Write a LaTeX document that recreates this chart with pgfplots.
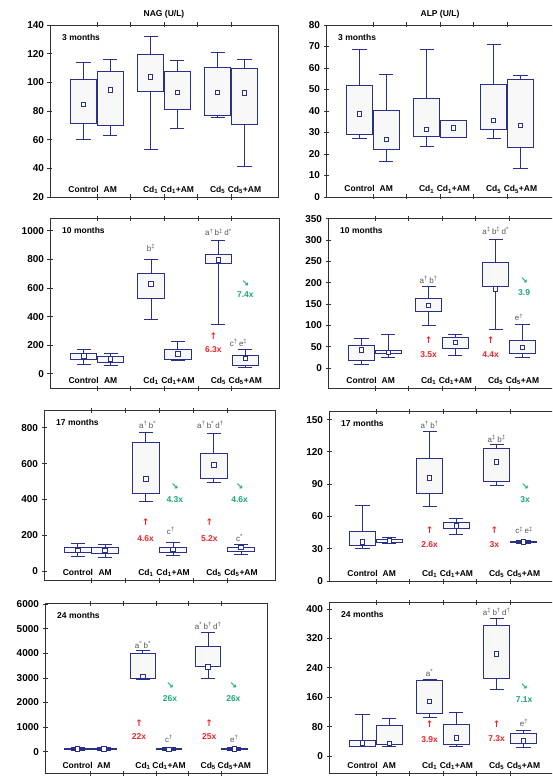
\documentclass[border=0pt]{standalone}
\usepackage{pgfplots}
\pgfplotsset{compat=1.18}
\usepackage{pgfplotstable}
\usepackage{fontspec}
\setmainfont{Liberation Sans}
\newfontfamily\sym{DejaVu Sans}
\definecolor{navy}{RGB}{40,48,135}
\definecolor{boxfill}{RGB}{248,248,248}
\definecolor{annred}{RGB}{232,38,44}
\definecolor{anngreen}{RGB}{28,168,118}
\definecolor{anngray}{RGB}{85,85,85}
\definecolor{framec}{RGB}{50,50,50}

\pgfplotsset{
  panel/.style={scale only axis, clip=false, anchor=north west,
    xmin=-0.4, xmax=6.4, xtick={1,2,3,4,5},
    xticklabels={\mbox{},\mbox{},\mbox{},\mbox{},\mbox{}},
    tick align=center, major tick length=5pt, ytick pos=left,
    axis line style={framec, line width=0.8pt},
    tick style={framec, line width=0.8pt},
    tick label style={font=\bfseries\fontsize{10}{12}\selectfont},
    /pgf/number format/assume math mode=true,
    /pgf/number format/1000 sep={},
    scaled y ticks=false},
  bx/.style={draw=navy, fill=boxfill, line width=1pt, mark=none},
  wk/.style={draw=navy, line width=1pt, mark=none},
  means/.style={only marks, mark=square*, mark size=2.3pt,
    mark options={draw=navy, fill=white, line width=0.9pt}},
}
\tikzset{
  catl/.style={anchor=base, yshift=5pt, inner sep=0pt, font=\bfseries\fontsize{8.5}{10}\selectfont},
  ttl/.style={yshift=11pt, font=\bfseries\fontsize{8.5}{10}\selectfont},
  sigl/.style={text=anngray, inner sep=0pt, font=\fontsize{8}{9}\selectfont},
  redl/.style={text=annred, inner sep=0pt, font=\bfseries\fontsize{8.5}{10}\selectfont},
  grnl/.style={text=anngreen, inner sep=0pt, font=\bfseries\fontsize{8.5}{10}\selectfont},
}

% one box: table, row
\newcommand{\onebox}[2]{%
  \pgfplotstablegetelem{#2}{pos}\of#1\let\bpos\pgfplotsretval
  \pgfplotstablegetelem{#2}{lw}\of#1\let\blw\pgfplotsretval
  \pgfplotstablegetelem{#2}{lq}\of#1\let\blq\pgfplotsretval
  \pgfplotstablegetelem{#2}{uq}\of#1\let\buq\pgfplotsretval
  \pgfplotstablegetelem{#2}{uw}\of#1\let\buw\pgfplotsretval
  \pgfmathsetmacro\bxl{\bpos-0.39}\pgfmathsetmacro\bxr{\bpos+0.39}%
  \pgfmathsetmacro\bcl{\bpos-0.21}\pgfmathsetmacro\bcr{\bpos+0.21}%
  \edef\tmp{%
    \noexpand\addplot[wk] coordinates {(\bpos,\buq) (\bpos,\buw)};
    \noexpand\addplot[wk] coordinates {(\bcl,\buw) (\bcr,\buw)};
    \noexpand\addplot[wk] coordinates {(\bpos,\blq) (\bpos,\blw)};
    \noexpand\addplot[wk] coordinates {(\bcl,\blw) (\bcr,\blw)};
    \noexpand\addplot[bx] coordinates {(\bxl,\blq) (\bxr,\blq) (\bxr,\buq) (\bxl,\buq)} --cycle;
  }\tmp}
\newcommand{\boxes}[1]{\onebox{#1}{0}\onebox{#1}{1}\onebox{#1}{2}%
  \onebox{#1}{3}\onebox{#1}{4}\onebox{#1}{5}%
  \addplot[means] table[x=pos, y=mean] {#1};}
\newcommand{\cats}{%
  \node[catl] at ({axis cs:0.6,0}|-{rel axis cs:0,0}) {Control};
  \node[catl] at ({axis cs:1.4,0}|-{rel axis cs:0,0}) {AM};
  \node[catl] at ({axis cs:2.6,0}|-{rel axis cs:0,0}) {Cd\textsubscript{1}};
  \node[catl] at ({axis cs:3.4,0}|-{rel axis cs:0,0}) {Cd\textsubscript{1}+AM};
  \node[catl] at ({axis cs:4.6,0}|-{rel axis cs:0,0}) {Cd\textsubscript{5}};
  \node[catl] at ({axis cs:5.4,0}|-{rel axis cs:0,0}) {Cd\textsubscript{5}+AM};}
\newcommand{\deco}[1]{\node[anchor=west, xshift=12pt, yshift=-12pt, inner sep=0pt,
  font=\bfseries\fontsize{8.5}{10}\selectfont] at (rel axis cs:0,1) {#1};\cats}
\newcommand{\sig}[3]{\node[sigl] at (axis cs:#1,#2) {#3};}
\newcommand{\up}[4]{\node[redl] at (axis cs:#1,#2) {\sym\fontsize{9}{10}\selectfont ↑};
  \node[redl] at (axis cs:#1,#3) {#4};}
\newcommand{\dn}[4]{\node[grnl] at (axis cs:#1,#2) {\sym\bfseries\fontsize{9}{10}\selectfont ↘};
  \node[grnl] at (axis cs:#1,#3) {#4};}

% columns: pos, lower whisker, lower quartile, upper quartile, upper whisker, mean
\pgfplotstableread{
pos lw lq uq uw mean
0.6 59.8 71.0 102.1 113.8 84.6
1.4 62.8 69.6 107.7 116.1 94.6
2.6 53.2 93.7 119.6 132.3 103.7
3.4 67.5 81.3 107.7 115.4 93.0
4.6 75.2 76.8 110.3 120.6 93.0
5.4 41.3 70.5 109.6 115.9 92.5
}\tLa
\pgfplotstableread{
pos lw lq uq uw mean
0.6 27.1 29.3 51.9 68.6 38.7
1.4 16.5 22.3 40.2 57.1 26.8
2.6 23.4 28.1 46.0 68.8 31.5
3.4 27.5 27.8 35.6 35.6 32.0
4.6 27.4 31.3 52.4 71.1 35.6
5.4 13.3 22.8 54.6 56.6 33.2
}\tRa
\pgfplotstableread{
pos lw lq uq uw mean
0.6 63 98 142 168 124
1.4 56 79 121 145 103
2.6 378 524 699 802 629
3.4 93 103 168 228 138
4.6 347 772 832 930 797
5.4 47 58 131 170 107
}\tLb
\pgfplotstableread{
pos lw lq uq uw mean
0.6 9 17 53 70 42
1.4 25 33 40 78 36
2.6 99 132 164 192 146.5
3.4 30 45 72 79 60
4.6 90 191 247 302 185
5.4 25 35 64 101 48
}\tRb
\pgfplotstableread{
pos lw lq uq uw mean
0.6 82 101 129 154 116
1.4 75 99 131 148 116
2.6 386 431 716 776 515
3.4 86 101 131 159 120
4.6 495 517 659 768 594
5.4 90 110 133 146 131
}\tLc
\pgfplotstableread{
pos lw lq uq uw mean
0.6 30 33.1 45.8 70.5 36.2
1.4 34.6 35.6 38.7 40.2 37.1
2.6 69 81 113.8 138.6 95.6
3.4 43 48.9 54.7 58.1 51.3
4.6 89 92.8 122.8 126.5 110.4
5.4 34.8 35.5 36.8 37.3 36.2
}\tRc
\pgfplotstableread{
pos lw lq uq uw mean
0.6 60 90 150 180 120
1.4 55 85 140 170 110
2.6 2953 2993 3987 4120 3060
3.4 50 80 130 160 100
4.6 2993 3450 4268 4832 3440
5.4 60 90 140 170 110
}\tLd
\pgfplotstableread{
pos lw lq uq uw mean
0.6 25 27 43 113 36
1.4 27 31 82 102 34
2.6 106 117 205 209 149
3.4 27 31 85 118 49
4.6 182 211 356 375 277
5.4 23 34 61 70 41
}\tRd

\begin{document}
\begin{tikzpicture}
\useasboundingbox (0,0) rectangle (552pt,-776pt);
\clip (0,0) rectangle (552pt,-776pt);

% ---------- 3 months ----------
\begin{axis}[panel, at={(50pt,-25pt)}, width=228pt, height=172pt,
  ymin=20, ymax=140, ytick={20,40,...,140}]
\boxes{\tLa}
\deco{3 months}
\node[ttl] at (rel axis cs:0.5,1) {NAG (U/L)};
\end{axis}

\begin{axis}[panel, at={(326pt,-25pt)}, width=228pt, height=172pt,
  ymin=0, ymax=80, ytick={0,10,...,80}]
\boxes{\tRa}
\deco{3 months}
\node[ttl] at (rel axis cs:0.5,1) {ALP (U/L)};
\end{axis}

% ---------- 10 months ----------
\begin{axis}[panel, at={(50pt,-218pt)}, width=229pt, height=170pt,
  ymin=-100, ymax=1090, ytick={0,200,...,1000}]
\boxes{\tLb}
\deco{10 months}
\sig{2.6}{883}{b\textsuperscript{‡}}
\sig{4.6}{990}{a\textsuperscript{†}\,b\textsuperscript{‡}\,d\textsuperscript{*}}
\up{4.45}{261}{168}{6.3x}
\dn{5.4}{634}{552}{7.4x}
\sig{5.2}{214}{c\textsuperscript{†}\,e\textsuperscript{‡}}
\end{axis}

\begin{axis}[panel, at={(328pt,-218pt)}, width=228pt, height=170pt,
  ymin=-47, ymax=352, ytick={0,50,...,350}]
\boxes{\tRb}
\deco{10 months}
\sig{2.6}{206}{a\textsuperscript{†}\,b\textsuperscript{†}}
\sig{4.6}{321}{a\textsuperscript{‡}\,b\textsuperscript{‡}\,d\textsuperscript{*}}
\dn{5.45}{204}{178}{3.9}
\sig{5.3}{119}{e\textsuperscript{†}}
\up{2.6}{65}{31}{3.5x}
\up{4.45}{65}{31}{4.4x}
\end{axis}

% ---------- 17 months ----------
\begin{axis}[panel, at={(44pt,-410pt)}, width=231pt, height=170pt,
  ymin=-50, ymax=900, ytick={0,200,...,800}]
\boxes{\tLc}
\deco{17 months}
\sig{2.65}{815}{a\textsuperscript{†}\,b\textsuperscript{*}}
\sig{4.5}{815}{a\textsuperscript{†}\,b\textsuperscript{*}\,d\textsuperscript{†}}
\dn{3.45}{472}{397}{4.3x}
\dn{5.36}{472}{397}{4.6x}
\up{2.59}{272}{182}{4.6x}
\up{4.47}{272}{182}{5.2x}
\sig{3.33}{225}{c\textsuperscript{†}}
\sig{5.36}{185}{c\textsuperscript{*}}
\end{axis}

\begin{axis}[panel, at={(329pt,-411pt)}, width=228pt, height=170pt,
  ymin=0, ymax=158, ytick={0,30,...,150}]
\boxes{\tRc}
\deco{17 months}
\sig{2.6}{145}{a\textsuperscript{†}\,b\textsuperscript{†}}
\sig{4.6}{132}{a\textsuperscript{‡}\,b\textsuperscript{‡}}
\dn{5.45}{87.5}{75.8}{3x}
\up{2.6}{47}{34}{2.6x}
\up{4.53}{47}{34}{3x}
\sig{5.42}{47}{c\textsuperscript{‡}\,e\textsuperscript{‡}}
\end{axis}

% ---------- 24 months ----------
\begin{axis}[panel, at={(45pt,-603pt)}, width=222pt, height=170pt,
  ymin=-860, ymax=6040, ytick={0,1000,...,6000}]
\boxes{\tLd}
\deco{24 months}
\sig{2.6}{4322}{a\textsuperscript{*}\,b\textsuperscript{*}}
\sig{4.6}{5100}{a\textsuperscript{*}\,b\textsuperscript{†}\,d\textsuperscript{†}}
\dn{3.43}{2685}{2148}{26x}
\dn{5.37}{2685}{2148}{26x}
\up{2.48}{1181}{604}{22x}
\up{4.63}{1181}{604}{25x}
\sig{3.4}{537}{c\textsuperscript{†}}
\sig{5.4}{537}{e\textsuperscript{†}}
\end{axis}

\begin{axis}[panel, at={(329pt,-602pt)}, width=228pt, height=171pt,
  ymin=-46, ymax=419, ytick={0,80,...,400}]
\boxes{\tRd}
\deco{24 months}
\sig{2.6}{225}{a\textsuperscript{*}}
\sig{4.6}{393}{a\textsuperscript{‡}\,b\textsuperscript{†}\,d\textsuperscript{†}}
\dn{5.42}{188}{154}{7.1x}
\up{2.6}{86}{45}{3.9x}
\up{4.6}{86}{48}{7.3x}
\sig{5.42}{91}{e\textsuperscript{†}}
\end{axis}
\end{tikzpicture}
\end{document}
